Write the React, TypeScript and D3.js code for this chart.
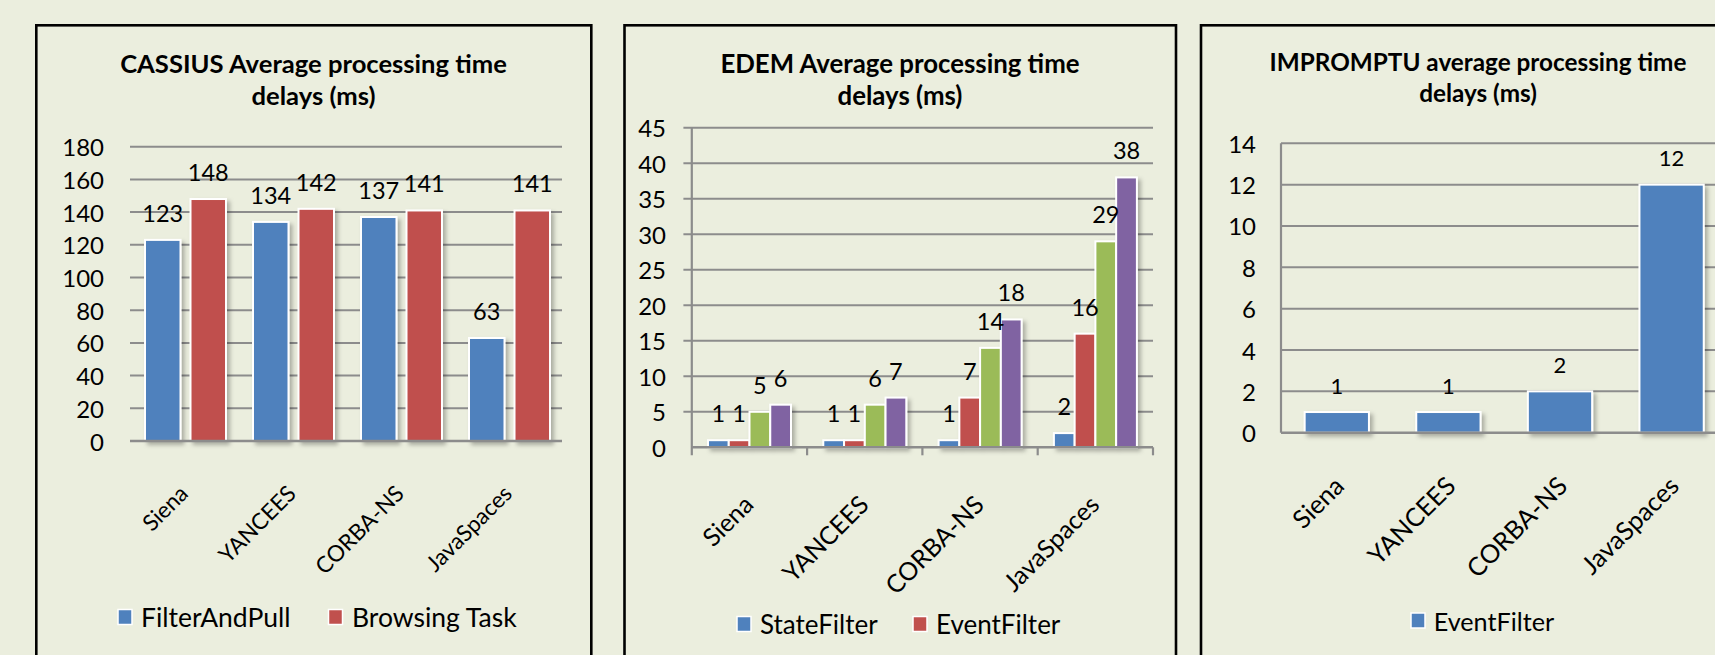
import React from "react";
import * as d3 from "d3";

const categories = ["Siena", "YANCEES", "CORBA-NS", "JavaSpaces"];

const cassiusFilterAndPull = [123, 134, 137, 63];
const cassiusBrowsingTask = [148, 142, 141, 141];
const cassiusTicks = [0, 20, 40, 60, 80, 100, 120, 140, 160, 180];

const edemStateFilter = [1, 1, 1, 2];
const edemEventFilter = [1, 1, 7, 16];
const edemSeries3 = [5, 6, 14, 29];
const edemSeries4 = [6, 7, 18, 38];
const edemTicks = [0, 5, 10, 15, 20, 25, 30, 35, 40, 45];

const impromptuEventFilter = [1, 1, 2, 12];
const impromptuTicks = [0, 2, 4, 6, 8, 10, 12, 14];

const BLUE = "#4F81BD";
const RED = "#C0504D";
const GREEN = "#9BBB59";
const PURPLE = "#8064A2";
const BG = "#EBEEDE";
const GRID = "#8C8C8C";
const FONT = "Lato, Carlito, 'DejaVu Sans', sans-serif";

type Series = { name: string; values: number[]; color: string; legend: boolean };

type PanelCfg = {
  id: string;
  border: { x: number; y: number; w: number; h: number };
  title: string[];
  titleX: number;
  titleY: number[];
  titleSize: number;
  plotX0: number;
  plotX1: number;
  gridX0: number;
  gridX1: number;
  y0: number;
  y1: number;
  yMax: number;
  ticks: number[];
  tickRight: number;
  tickSize: number;
  outerPadInner: number;
  outerPadOuter: number;
  groupFrac: [number, number];
  innerPad: number;
  series: Series[];
  labelSize: number;
  labelOffset: number;
  xLabelSize: number;
  xLabelDx: number;
  xLabelDy: number;
  vAxis: boolean;
  catTicks: boolean;
  legendY: number;
  legendSize: number;
  legendItems: { sq: number; tx: number }[];
};

const panels: PanelCfg[] = [
  {
    id: "p1",
    border: { x: 36.3, y: 25.3, w: 555, h: 700 },
    title: ["CASSIUS Average processing time", "delays (ms)"],
    titleX: 313.5,
    titleY: [63, 95],
    titleSize: 25.6,
    plotX0: 130,
    plotX1: 562,
    gridX0: 130,
    gridX1: 562,
    y0: 441,
    y1: 146.7,
    yMax: 180,
    ticks: cassiusTicks,
    tickRight: 104,
    tickSize: 24,
    outerPadInner: 0,
    outerPadOuter: 0,
    groupFrac: [15 / 108, 96 / 108],
    innerPad: 0.22,
    series: [
      { name: "FilterAndPull", values: cassiusFilterAndPull, color: BLUE, legend: true },
      { name: "Browsing Task", values: cassiusBrowsingTask, color: RED, legend: true },
    ],
    labelSize: 23.5,
    labelOffset: 27,
    xLabelSize: 22.5,
    xLabelDx: 5.5,
    xLabelDy: 54,
    vAxis: false,
    catTicks: false,
    legendY: 617,
    legendSize: 26.5,
    legendItems: [
      { sq: 118, tx: 141 },
      { sq: 328.5, tx: 352 },
    ],
  },
  {
    id: "p2",
    border: { x: 624.5, y: 25.3, w: 551.5, h: 700 },
    title: ["EDEM Average processing time", "delays (ms)"],
    titleX: 900,
    titleY: [63, 95],
    titleSize: 25.8,
    plotX0: 691.8,
    plotX1: 1153,
    gridX0: 683.4,
    gridX1: 1153,
    y0: 447.3,
    y1: 127.7,
    yMax: 45,
    ticks: edemTicks,
    tickRight: 666,
    tickSize: 24,
    outerPadInner: 0,
    outerPadOuter: 0,
    groupFrac: [16.2 / 115.3, 99.2 / 115.3],
    innerPad: 0,
    series: [
      { name: "StateFilter", values: edemStateFilter, color: BLUE, legend: true },
      { name: "EventFilter", values: edemEventFilter, color: RED, legend: true },
      { name: "Series3", values: edemSeries3, color: GREEN, legend: false },
      { name: "Series4", values: edemSeries4, color: PURPLE, legend: false },
    ],
    labelSize: 23.5,
    labelOffset: 27,
    xLabelSize: 25,
    xLabelDx: 5.5,
    xLabelDy: 59,
    vAxis: true,
    catTicks: true,
    legendY: 624,
    legendSize: 26,
    legendItems: [
      { sq: 737, tx: 760 },
      { sq: 913, tx: 936 },
    ],
  },
  {
    id: "p3",
    border: { x: 1201, y: 25.3, w: 600, h: 700 },
    title: ["IMPROMPTU average processing time", "delays (ms)"],
    titleX: 1478,
    titleY: [61.7, 92],
    titleSize: 24.3,
    plotX0: 1281,
    plotX1: 1281 + 446.4,
    gridX0: 1281,
    gridX1: 1800,
    y0: 432.7,
    y1: 143.3,
    yMax: 14,
    ticks: impromptuTicks,
    tickRight: 1256,
    tickSize: 24,
    outerPadInner: 0.424,
    outerPadOuter: 0.212,
    groupFrac: [0, 1],
    innerPad: 0,
    series: [{ name: "EventFilter", values: impromptuEventFilter, color: BLUE, legend: true }],
    labelSize: 22,
    labelOffset: 27,
    xLabelSize: 25.5,
    xLabelDx: 9,
    xLabelDy: 55,
    vAxis: true,
    catTicks: false,
    legendY: 620.5,
    legendSize: 25.2,
    legendItems: [{ sq: 1411, tx: 1433.7 }],
  },
];

function Panel({ cfg }: { cfg: PanelCfg }) {
  const x = d3
    .scaleBand<string>()
    .domain(categories)
    .range([cfg.plotX0, cfg.plotX1])
    .paddingInner(cfg.outerPadInner)
    .paddingOuter(cfg.outerPadOuter);
  const bw = x.bandwidth();
  const inner = d3
    .scaleBand<string>()
    .domain(cfg.series.map((s) => s.name))
    .range([bw * cfg.groupFrac[0], bw * cfg.groupFrac[1]])
    .paddingInner(cfg.innerPad);
  const y = d3.scaleLinear().domain([0, cfg.yMax]).range([cfg.y0, cfg.y1]);
  const b = cfg.border;
  const legendSeries = cfg.series.filter((s) => s.legend);

  return (
    <g>
      <rect x={b.x} y={b.y} width={b.w} height={b.h} fill={BG} stroke="#000" strokeWidth={2.6} />
      {cfg.title.map((t, i) => (
        <text
          key={i}
          x={cfg.titleX}
          y={cfg.titleY[i]}
          textAnchor="middle"
          dominantBaseline="central"
          fontFamily={FONT}
          fontWeight="bold"
          fontSize={cfg.titleSize}
          fill="#000"
        >
          {t}
        </text>
      ))}
      {cfg.ticks
        .filter((t) => t !== 0)
        .map((t) => (
          <line key={t} x1={cfg.gridX0} x2={cfg.gridX1} y1={y(t)} y2={y(t)} stroke={GRID} strokeWidth={2} />
        ))}
      {cfg.ticks.map((t) => (
        <text
          key={"l" + t}
          x={cfg.tickRight}
          y={y(t)}
          textAnchor="end"
          dominantBaseline="central"
          fontFamily={FONT}
          fontSize={cfg.tickSize}
          fill="#000"
        >
          {t}
        </text>
      ))}
      {cfg.vAxis && (
        <line
          x1={cfg.plotX0}
          x2={cfg.plotX0}
          y1={cfg.y1}
          y2={cfg.catTicks ? cfg.y0 + 8 : cfg.y0}
          stroke={GRID}
          strokeWidth={2.2}
        />
      )}
      {cfg.catTicks &&
        categories.map((c) => (
          <line
            key={"ct" + c}
            x1={(x(c) as number) + x.step()}
            x2={(x(c) as number) + x.step()}
            y1={cfg.y0}
            y2={cfg.y0 + 8}
            stroke={GRID}
            strokeWidth={2.2}
          />
        ))}
      <g filter="url(#shadow)">
        {categories.map((c, ci) =>
          cfg.series.map((s) => {
            const bx = (x(c) as number) + (inner(s.name) as number);
            const v = s.values[ci];
            return (
              <rect
                key={c + s.name}
                x={bx}
                y={y(v)}
                width={inner.bandwidth()}
                height={cfg.y0 - y(v)}
                fill={s.color}
                stroke="#fff"
                strokeWidth={2}
              />
            );
          })
        )}
      </g>
      <line
        x1={cfg.vAxis ? cfg.plotX0 : cfg.gridX0}
        x2={cfg.gridX1}
        y1={cfg.y0}
        y2={cfg.y0}
        stroke={GRID}
        strokeWidth={2.6}
      />
      {categories.map((c, ci) =>
        cfg.series.map((s) => {
          const bx = (x(c) as number) + (inner(s.name) as number) + inner.bandwidth() / 2;
          const v = s.values[ci];
          return (
            <text
              key={"v" + c + s.name}
              x={bx}
              y={y(v) - cfg.labelOffset}
              textAnchor="middle"
              dominantBaseline="central"
              fontFamily={FONT}
              fontSize={cfg.labelSize}
              fill="#000"
            >
              {v}
            </text>
          );
        })
      )}
      {categories.map((c) => {
        const cx = (x(c) as number) + bw / 2 + cfg.xLabelDx;
        const cy = cfg.y0 + cfg.xLabelDy;
        return (
          <text
            key={"x" + c}
            transform={`translate(${cx},${cy}) rotate(-45)`}
            textAnchor="end"
            fontFamily={FONT}
            fontSize={cfg.xLabelSize}
            fill="#000"
          >
            {c}
          </text>
        );
      })}
      {legendSeries.map((s, i) => {
        const it = cfg.legendItems[i];
        return (
          <g key={"lg" + s.name}>
            <rect
              x={it.sq}
              y={cfg.legendY - 7.5}
              width={14}
              height={15}
              fill={s.color}
              stroke="#fff"
              strokeWidth={1.5}
            />
            <text
              x={it.tx}
              y={cfg.legendY}
              dominantBaseline="central"
              fontFamily={FONT}
              fontSize={cfg.legendSize}
              fill="#000"
            >
              {s.name}
            </text>
          </g>
        );
      })}
    </g>
  );
}

export default function App() {
  return (
    <div style={{ position: "absolute", left: 0, top: 0 }}>
      <svg width={1715} height={655} style={{ display: "block", background: BG }}>
        <defs>
          <filter id="shadow" x="-20%" y="-20%" width="160%" height="160%">
            <feDropShadow dx="3" dy="3" stdDeviation="2" floodColor="#000" floodOpacity="0.28" />
          </filter>
        </defs>
        <rect x={0} y={0} width={1715} height={655} fill={BG} />
        {panels.map((p) => (
          <Panel key={p.id} cfg={p} />
        ))}
      </svg>
    </div>
  );
}
